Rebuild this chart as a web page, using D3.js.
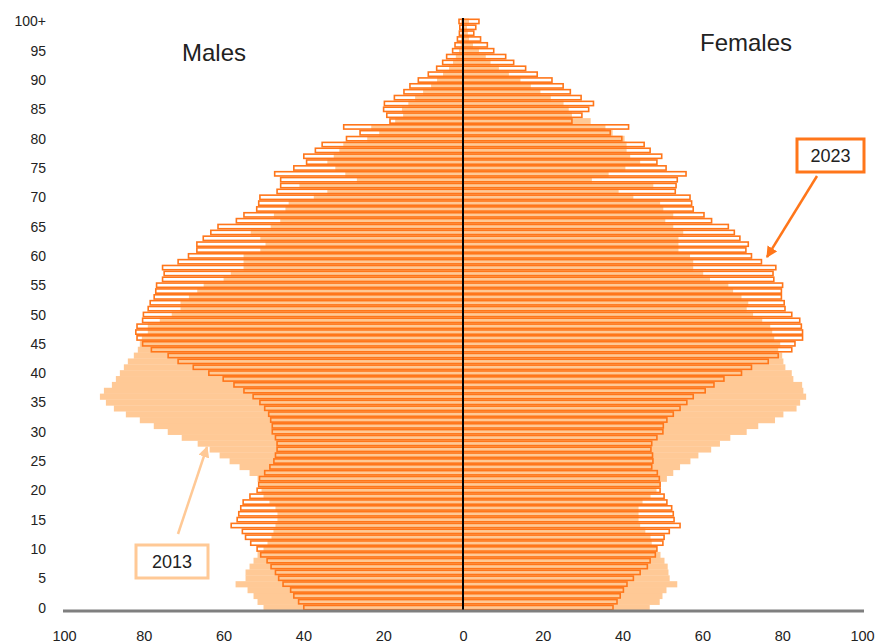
<!DOCTYPE html>
<html lang="en">
<head>
<meta charset="UTF-8">
<title>Population pyramid 2013 / 2023</title>
<script src="https://d3js.org/d3.v7.min.js"></script>
<style>
  body { margin: 0; background: #fff; font-family: "Liberation Sans", Arial, sans-serif; }
  svg text { fill: #222; }
</style>
</head>
<body>
<svg width="877" height="644"></svg>
<script>
// ages 0 .. 100+ (index = age)
var ages = d3.range(0, 101);
var ageTicks = ["0", "5", "10", "15", "20", "25", "30", "35", "40", "45", "50",
                "55", "60", "65", "70", "75", "80", "85", "90", "95", "100+"];
var xTicks = [-100, -80, -60, -40, -20, 0, 20, 40, 60, 80, 100];

// males 2023
var male2023 = [39.9, 41.2, 42.4, 43.2, 45.1, 46.2, 47.0, 48.1, 49.1, 50.7,
  51.6, 53.2, 54.5, 55.3, 58.1, 56.6, 56.2, 55.7, 55.1, 53.4,
  51.6, 51.2, 51.0, 49.7, 48.4, 47.4, 47.0, 46.6, 46.6, 47.0,
  47.8, 47.8, 48.2, 48.7, 49.7, 50.9, 52.6, 54.9, 57.4, 60.1,
  63.7, 67.6, 71.4, 73.9, 78.1, 80.3, 81.7, 82.0, 81.7, 80.3,
  80.1, 78.9, 78.4, 77.4, 77.0, 76.8, 75.3, 74.9, 75.3, 71.4,
  68.8, 66.7, 66.7, 65.1, 63.2, 61.4, 56.8, 54.9, 51.7, 51.2,
  50.9, 46.6, 45.7, 45.7, 47.2, 42.4, 39.2, 39.9, 37.0, 35.3,
  29.2, 25.8, 29.9, 18.3, 19.1, 19.9, 19.7, 17.2, 14.8, 13.3,
  11.2, 8.7, 6.6, 5.1, 4.1, 2.6, 2.0, 1.4, 0.9, 0.8, 1.0];

// males 2013
var male2013 = [50.0, 51.5, 52.5, 54.0, 57.0, 54.5, 54.5, 53.5, 52.5, 51.5,
  50.0, 49.0, 48.0, 47.5, 47.0, 46.5, 46.5, 47.0, 48.5, 50.0,
  50.5, 51.0, 51.5, 53.5, 56.0, 58.5, 61.0, 63.5, 66.5, 70.5,
  74.0, 77.5, 81.0, 84.5, 87.5, 89.5, 91.0, 90.0, 88.0, 87.0,
  86.0, 85.0, 84.0, 82.5, 81.5, 81.0, 80.5, 79.0, 79.0, 76.0,
  73.0, 70.8, 70.8, 68.7, 66.6, 65.0, 60.0, 58.2, 55.0, 55.0,
  55.0, 50.8, 49.5, 50.8, 53.2, 48.2, 45.8, 47.4, 44.5, 43.7,
  37.4, 34.0, 41.0, 26.6, 29.5, 32.0, 34.0, 32.4, 31.0, 30.0,
  24.0, 21.0, 23.0, 17.0, 15.0, 15.3, 13.7, 12.0, 10.0, 8.0,
  6.5, 5.0, 3.5, 2.5, 1.8, 1.0, 0.6, 0.5, 0.4, 0.3, 0.5];

// females 2023
var female2023 = [37.6, 38.6, 39.4, 40.2, 41.1, 42.7, 44.4, 46.2, 46.9, 48.2,
  48.6, 50.1, 50.4, 51.7, 54.4, 52.9, 52.7, 52.3, 51.1, 50.4,
  49.4, 49.4, 49.2, 48.7, 47.3, 47.6, 47.5, 47.1, 47.3, 48.6,
  50.1, 50.2, 51.1, 52.7, 54.4, 56.1, 57.7, 60.7, 62.9, 65.4,
  69.8, 72.3, 76.5, 79.0, 82.4, 83.2, 85.1, 85.1, 84.8, 84.4,
  82.4, 80.7, 80.5, 79.8, 79.8, 80.1, 77.9, 77.7, 78.4, 74.8,
  72.3, 70.9, 71.5, 69.4, 68.0, 66.5, 62.3, 60.4, 57.7, 57.3,
  56.9, 53.2, 53.4, 53.7, 55.9, 50.9, 48.6, 49.8, 46.9, 45.4,
  39.8, 36.9, 41.5, 27.3, 29.8, 31.5, 32.7, 29.6, 26.9, 25.1,
  22.3, 18.6, 15.7, 12.7, 10.7, 7.7, 6.1, 4.4, 2.7, 3.2, 4.0];

// females 2013
var female2013 = [46.8, 49.3, 50.0, 51.0, 53.7, 51.8, 51.5, 51.3, 50.5, 49.5,
  48.5, 47.3, 47.0, 45.7, 44.4, 44.0, 44.0, 44.0, 45.0, 47.0,
  48.5, 49.5, 51.1, 52.7, 54.4, 57.0, 59.0, 62.2, 64.4, 67.0,
  71.1, 74.0, 78.2, 80.3, 83.6, 84.5, 86.0, 85.3, 85.0, 82.8,
  82.4, 80.8, 80.3, 80.0, 79.0, 79.5, 78.0, 77.5, 77.0, 75.0,
  72.7, 71.1, 71.5, 69.8, 67.7, 66.5, 61.9, 60.2, 57.7, 57.7,
  56.9, 54.0, 54.0, 54.0, 55.2, 52.7, 50.7, 52.7, 50.2, 49.4,
  42.7, 39.0, 47.7, 32.3, 36.5, 40.7, 44.4, 41.9, 41.0, 41.0,
  40.5, 37.5, 35.7, 32.0, 27.3, 26.5, 25.2, 22.0, 19.4, 17.0,
  14.4, 11.5, 9.0, 6.9, 5.7, 4.0, 2.5, 1.5, 1.2, 1.0, 1.5];

var light = "#ffc996",
    strong = "#ff761a";

var svg = d3.select("svg");

var x = d3.scaleLinear().domain([-100, 100]).range([64, 862]);
var y = d3.scaleBand()
    .domain(ages.slice().reverse())
    .range([18.5, 610.5])
    .padding(0);

var bh = y.bandwidth();

// 2013: solid light bars, no gaps
var g13 = svg.append("g");
g13.selectAll(".m13")
    .data(ages)
    .enter().append("rect")
    .attr("x", function(d) { return x(-male2013[d]); })
    .attr("y", function(d) { return y(d); })
    .attr("width", function(d) { return x(0) - x(-male2013[d]); })
    .attr("height", bh + 0.3)
    .attr("fill", light);
g13.selectAll(".f13")
    .data(ages)
    .enter().append("rect")
    .attr("x", x(0))
    .attr("y", function(d) { return y(d); })
    .attr("width", function(d) { return x(female2013[d]) - x(0); })
    .attr("height", bh + 0.3)
    .attr("fill", light);

// 2023: outlined bars, touching each other
var sw = 1.6;
var inner = bh - sw;
var g23 = svg.append("g")
    .attr("fill", "none")
    .attr("stroke", strong)
    .attr("stroke-width", sw);
g23.selectAll(".m23")
    .data(ages)
    .enter().append("rect")
    .attr("x", function(d) { return x(-male2023[d]); })
    .attr("y", function(d) { return y(d) + sw / 2; })
    .attr("width", function(d) { return x(0) - x(-male2023[d]); })
    .attr("height", inner);
g23.selectAll(".f23")
    .data(ages)
    .enter().append("rect")
    .attr("x", x(0))
    .attr("y", function(d) { return y(d) + sw / 2; })
    .attr("width", function(d) { return x(female2023[d]) - x(0); })
    .attr("height", inner);

// centre line
svg.append("line")
    .attr("x1", x(0)).attr("x2", x(0))
    .attr("y1", 18).attr("y2", 611)
    .attr("stroke", "#000")
    .attr("stroke-width", 2);

// base line
svg.append("line")
    .attr("x1", 63).attr("x2", 864)
    .attr("y1", 611).attr("y2", 611)
    .attr("stroke", "#7f7f7f")
    .attr("stroke-width", 3);

// x axis labels
var xAxis = d3.axisBottom(x)
    .tickValues(xTicks)
    .tickSize(0)
    .tickPadding(20)
    .tickFormat(function(d) { return Math.abs(d); });
var gx = svg.append("g")
    .attr("transform", "translate(0,611)")
    .call(xAxis);
gx.select(".domain").remove();
gx.selectAll("text")
    .style("font-family", "Liberation Sans, Arial, sans-serif")
    .style("font-size", "14.5px")
    .style("fill", "#222");

// age labels
svg.append("g").selectAll("text")
    .data(ageTicks)
    .enter().append("text")
    .attr("x", 46)
    .attr("y", function(d, i) { return y(i * 5) + bh / 2 + 5; })
    .attr("text-anchor", "end")
    .style("font-size", "14px")
    .text(function(d) { return d; });

// titles
svg.append("text").attr("x", 214).attr("y", 61)
    .attr("text-anchor", "middle").style("font-size", "24px").text("Males");
svg.append("text").attr("x", 746).attr("y", 51)
    .attr("text-anchor", "middle").style("font-size", "24px").text("Females");

// arrow markers
var defs = svg.append("defs");
function marker(id, color) {
    defs.append("marker")
        .attr("id", id)
        .attr("viewBox", "0 0 10 10")
        .attr("refX", 9).attr("refY", 5)
        .attr("markerWidth", 4.5).attr("markerHeight", 4.5)
        .attr("orient", "auto")
        .append("path")
        .attr("d", "M0,0 L10,5 L0,10 z")
        .attr("fill", color);
}
marker("head23", strong);
marker("head13", light);

// 2023 callout
svg.append("line")
    .attr("x1", 817).attr("y1", 176).attr("x2", 767).attr("y2", 257)
    .attr("stroke", strong).attr("stroke-width", 2.5)
    .attr("marker-end", "url(#head23)");
svg.append("rect")
    .attr("x", 797).attr("y", 139).attr("width", 67).attr("height", 33)
    .attr("fill", "#fff").attr("stroke", strong).attr("stroke-width", 3);
svg.append("text").attr("x", 830.5).attr("y", 162)
    .attr("text-anchor", "middle").style("font-size", "18px").text("2023");

// 2013 callout
svg.append("line")
    .attr("x1", 178).attr("y1", 534).attr("x2", 207).attr("y2", 447)
    .attr("stroke", light).attr("stroke-width", 2.5)
    .attr("marker-end", "url(#head13)");
svg.append("rect")
    .attr("x", 136).attr("y", 545).attr("width", 72).attr("height", 33)
    .attr("fill", "#fff").attr("stroke", light).attr("stroke-width", 3);
svg.append("text").attr("x", 172).attr("y", 568)
    .attr("text-anchor", "middle").style("font-size", "18px").text("2013");
</script>
</body>
</html>
